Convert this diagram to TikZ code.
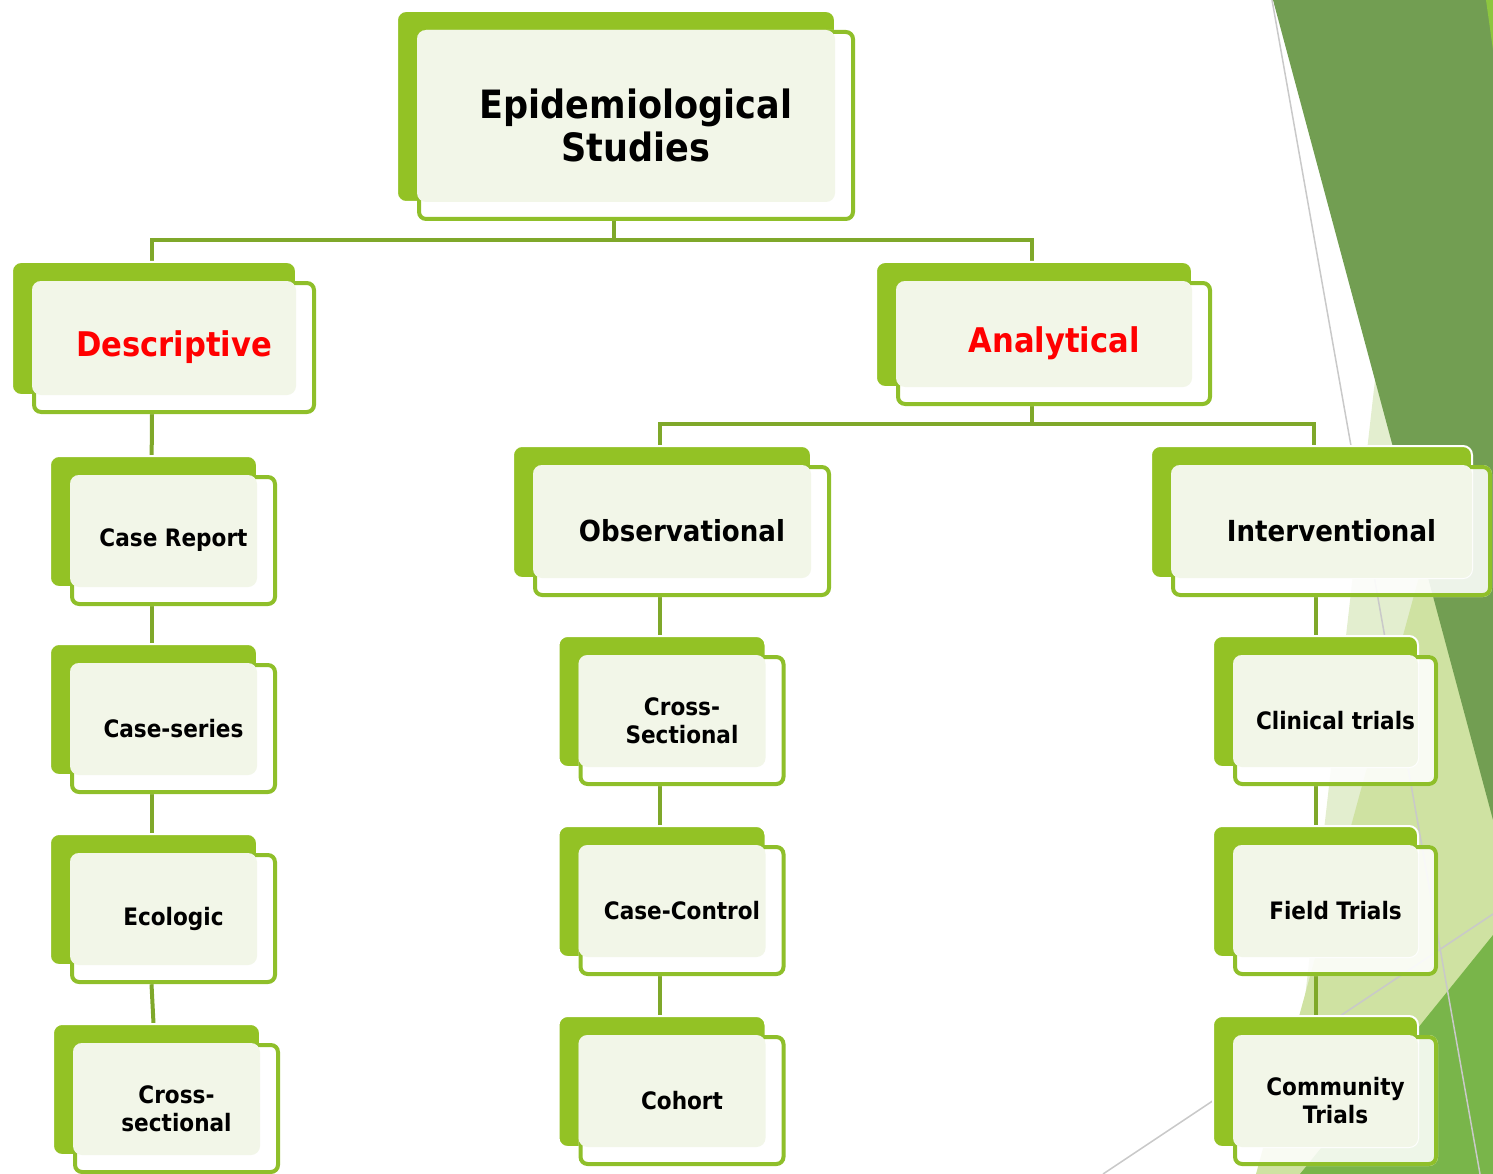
\documentclass[tikz,border=0pt]{standalone}
\usepackage{fontspec}
\setmainfont{DejaVu Sans}[FakeStretch=0.9]
\pgfdeclarelayer{background}
\pgfsetlayers{background,main}

\definecolor{backgreen}{HTML}{93C225}
\definecolor{boxgreen}{HTML}{8FBF2A}
\definecolor{softgreen}{HTML}{F2F6E8}
\definecolor{linkgreen}{HTML}{7FA82A}
\definecolor{darkleaf}{HTML}{729E52}
\definecolor{paleleaf}{HTML}{E3EECF}
\definecolor{lightleaf}{HTML}{CFE2A2}
\definecolor{midleaf}{HTML}{79B54A}
\definecolor{brightleaf}{HTML}{8DC63F}
\definecolor{thinline}{HTML}{C9C9C9}

\tikzset{
  studybox/.style={rectangle, rounded corners=9pt, inner sep=0pt, align=center,
    fill=white, fill opacity=0.88, text opacity=1, font=\bfseries,
    preaction={fill=backgreen, fill opacity=1, draw=white, draw opacity=1,
      line width=2pt, transform canvas={shift={(-20pt,19pt)}}},
    path picture={
      \draw[boxgreen, line width=8pt, opacity=1, rounded corners=9pt]
        (path picture bounding box.north west) rectangle (path picture bounding box.south east);
      \fill[softgreen, opacity=1, rounded corners=9pt]
        (path picture bounding box.north west) rectangle
        ([xshift=-20pt,yshift=19pt]path picture bounding box.south east);
    }},
  boxsize/.style 2 args={minimum width=#1pt, minimum height=#2pt},
  link/.style={draw=linkgreen, line width=4pt},
  topfont/.style={font=\bfseries\fontsize{39}{43}\selectfont},
  typefont/.style={font=\bfseries\fontsize{34}{40}\selectfont, text=red},
  groupfont/.style={font=\bfseries\fontsize{29}{34}\selectfont},
  leaffont/.style={font=\bfseries\fontsize{24}{28}\selectfont},
}

\begin{document}
\begin{tikzpicture}[x=1pt, y=-1pt]
  \useasboundingbox (0,0) rectangle (1493,1174);

  % Top level
  \node[studybox, boxsize={438}{191}, topfont] (root) at (636,125.5)
    {Epidemiological\\Studies};

  % Study types
  \node[studybox, boxsize={284}{133}, typefont] (desc) at (174,347.5) {Descriptive};
  \node[studybox, boxsize={316}{125}, typefont] (anal) at (1054,343.5) {Analytical};

  % Analytical groups
  \node[studybox, boxsize={298}{132}, groupfont] (obs) at (682,531) {Observational};
  \node[studybox, boxsize={321}{132}, groupfont] (intv) at (1331.5,531) {Interventional};

  % Descriptive designs
  \foreach \x/\y/\name/\txt in {173.5/540.5/crep/Case Report,
      173.5/728.5/cser/Case-series, 173.5/918.5/ecol/Ecologic,
      176.5/1108.5/csec/{Cross-\\sectional}} {
    \node[studybox, boxsize={207}{131}, leaffont] (\name) at (\x,\y) {\txt};
  }

  % Observational designs
  \foreach \y/\name/\txt in {720.5/xsec/{Cross-\\Sectional},
      910.5/ccon/Case-Control, 1100.5/coho/Cohort} {
    \node[studybox, boxsize={207}{131}, leaffont] (\name) at (682,\y) {\txt};
  }

  % Interventional designs
  \foreach \y/\name/\txt in {720.5/clin/Clinical trials,
      910.5/fiel/Field Trials, 1100.5/comm/{Community\\Trials}} {
    \node[studybox, boxsize={205}{131}, leaffont] (\name) at (1335.5,\y) {\txt};
  }

  \begin{pgfonlayer}{background}
    % Leaves on the right
    \fill[paleleaf] (1375,380) -- (1493,380) -- (1493,1174) -- (1285,1174) -- cycle;
    \fill[lightleaf] (1440,500) -- (1493,500) -- (1493,1174) -- (1256,1174) -- cycle;
    \fill[midleaf] (1493,935) -- (1493,1174) -- (1300,1174) -- cycle;
    \fill[darkleaf] (1273,0) -- (1493,0) -- (1493,820) -- cycle;
    \fill[brightleaf] (1486,0) -- (1493,0) -- (1493,50) -- cycle;
    \draw[thinline, line width=1.5pt] (1272,0) -- (1480,1174);
    \draw[thinline, line width=1.5pt] (1103,1174) -- (1493,914);

    % Connections
    \coordinate (rootbus) at ([xshift=-22pt,yshift=-19pt]root.south);
    \coordinate (analbus) at ([xshift=-22pt,yshift=-18pt]anal.south);
    \draw[link] ([xshift=-22pt]root.south) -- (rootbus);
    \draw[link] (rootbus) -| ([xshift=-22pt]desc.north);
    \draw[link] (rootbus) -| ([xshift=-22pt]anal.north);
    \draw[link] ([xshift=-22pt]anal.south) -- (analbus);
    \draw[link] (analbus) -| ([xshift=-22pt]obs.north);
    \draw[link] (analbus) -| ([xshift=-18pt]intv.north);
    \foreach \a/\b in {desc/crep, crep/cser, cser/ecol, ecol/csec,
        obs/xsec, xsec/ccon, ccon/coho} {
      \draw[link] ([xshift=-22pt]\a.south) -- ([xshift=-22pt]\b.north);
    }
    \foreach \a/\b in {intv/clin, clin/fiel, fiel/comm} {
      \draw[link] ([xshift=-20pt]\a.south -| clin.north) -- ([xshift=-20pt]\b.north -| clin.north);
    }
  \end{pgfonlayer}
\end{tikzpicture}
\end{document}
